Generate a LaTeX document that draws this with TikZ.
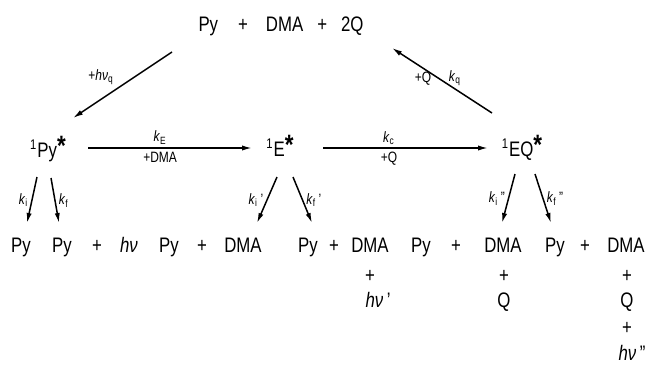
\documentclass[tikz,border=0pt]{standalone}
\usepackage{fontspec}
\setmainfont{Liberation Sans}[FakeStretch=0.8]
\usetikzlibrary{arrows.meta}

\begin{document}
\begin{tikzpicture}[
x=0.5pt, y=-0.5pt,
line width=0.75pt,
>={Latex[length=5pt,width=2.6pt]},
chem/.style={inner sep=0pt, anchor=base, font=\fontsize{10.5}{12}\selectfont},
rate/.style={inner sep=1.5pt, font=\fontsize{7.5}{8}\selectfont},
]
\useasboundingbox (0,0) rectangle (648,375);

% ground state and excited states
\node[chem]  (gs)   at (281,32)   {Py\hspace{10pt}+\hspace{9pt}DMA\hspace{7pt}+\hspace{7pt}2Q};
\node[chem]  (spy)  at (48,157)   {\textsuperscript{\scriptsize 1}Py\raisebox{0.1ex}{\fontsize{14}{14}\selectfont\bfseries *}};
\node[chem]  (se)   at (280,156)  {\textsuperscript{\scriptsize 1}E\raisebox{0.1ex}{\fontsize{14}{14}\selectfont\bfseries *}};
\node[chem]  (seq)  at (522,156)  {\textsuperscript{\scriptsize 1}EQ\raisebox{0.1ex}{\fontsize{14}{14}\selectfont\bfseries *}};

% products
\foreach \txt/\xx/\nm in {Py/21/b1, Py/62/b2, +/97/b3, {\textit{hν}}/129/b4,
    Py/169/b5, +/202/b6, DMA/243/b7,
    Py/308/b8, +/334/b9, DMA/370/b10,
    Py/421/b11, +/456/b12, DMA/503/b13,
    Py/555/b14, +/585/b15, DMA/626/b16}
  \node[chem] (\nm) at (\xx,252) {\txt};

\node[chem]  (c1)  at (370,282)  {+};
\node[chem]  (c2)  at (378,307)  {\textit{hν}\,'};
\node[chem]  (c3)  at (504,282)  {+};
\node[chem]  (c4)  at (504,307)  {Q};
\node[chem]  (c5)  at (627,282)  {+};
\node[chem]  (c6)  at (627,307)  {Q};
\node[chem]  (c7)  at (627,334)  {+};
\node[chem]  (c8)  at (632,360)  {\textit{hν}\,''};

% excitation and quenching
\draw[->] ([shift={(-109,20)}]gs.base) -- ([shift={(25,-39)}]spy.base)
  node[rate, pos=0.55, above left] {+\textit{hν}\textsubscript{q}};
\draw[->] ([shift={(-30,-43)}]seq.base) -- ([shift={(111,16)}]gs.base)
  node[rate, pos=0.37, above] {\textit{k}\textsubscript{q}}
  node[rate, pos=0.69, below] {+Q};

% exciplex and triplex formation
\draw[->] ([shift={(40,-9)}]spy.base) -- ([shift={(-28,-8)}]se.base)
  node[rate, pos=0.44, above] {\textit{k}\textsubscript{E}}
  node[rate, pos=0.44, below] {+DMA};
\draw[->] ([shift={(43,-8)}]se.base) -- ([shift={(-34,-8)}]seq.base)
  node[rate, pos=0.4, above] {\textit{k}\textsubscript{c}}
  node[rate, pos=0.4, below] {+Q};

% decay channels
\draw[->] ([shift={(-11,20)}]spy.base) -- ([shift={(6,-29)}]b1.base)
  node[rate, midway, left] {\textit{k}\textsubscript{i}};
\draw[->] ([shift={(3,21)}]spy.base) -- ([shift={(-3,-29)}]b2.base)
  node[rate, midway, right] {\textit{k}\textsubscript{f}};
\draw[->] ([shift={(-3,21)}]se.base) -- ([shift={(14,-29)}]b7.base)
  node[rate, midway, left] {\textit{k}\textsubscript{i}\,'};
\draw[->] ([shift={(13,21)}]se.base) -- ([shift={(4,-29)}]b8.base)
  node[rate, midway, right] {\textit{k}\textsubscript{f}\,'};
\draw[->] ([shift={(-7,18)}]seq.base) -- ([shift={(-1,-29)}]b13.base)
  node[rate, midway, left] {\textit{k}\textsubscript{i}\,''};
\draw[->] ([shift={(13,18)}]seq.base) -- ([shift={(-4,-29)}]b14.base)
  node[rate, midway, right] {\textit{k}\textsubscript{f}\,''};

\end{tikzpicture}
\end{document}
